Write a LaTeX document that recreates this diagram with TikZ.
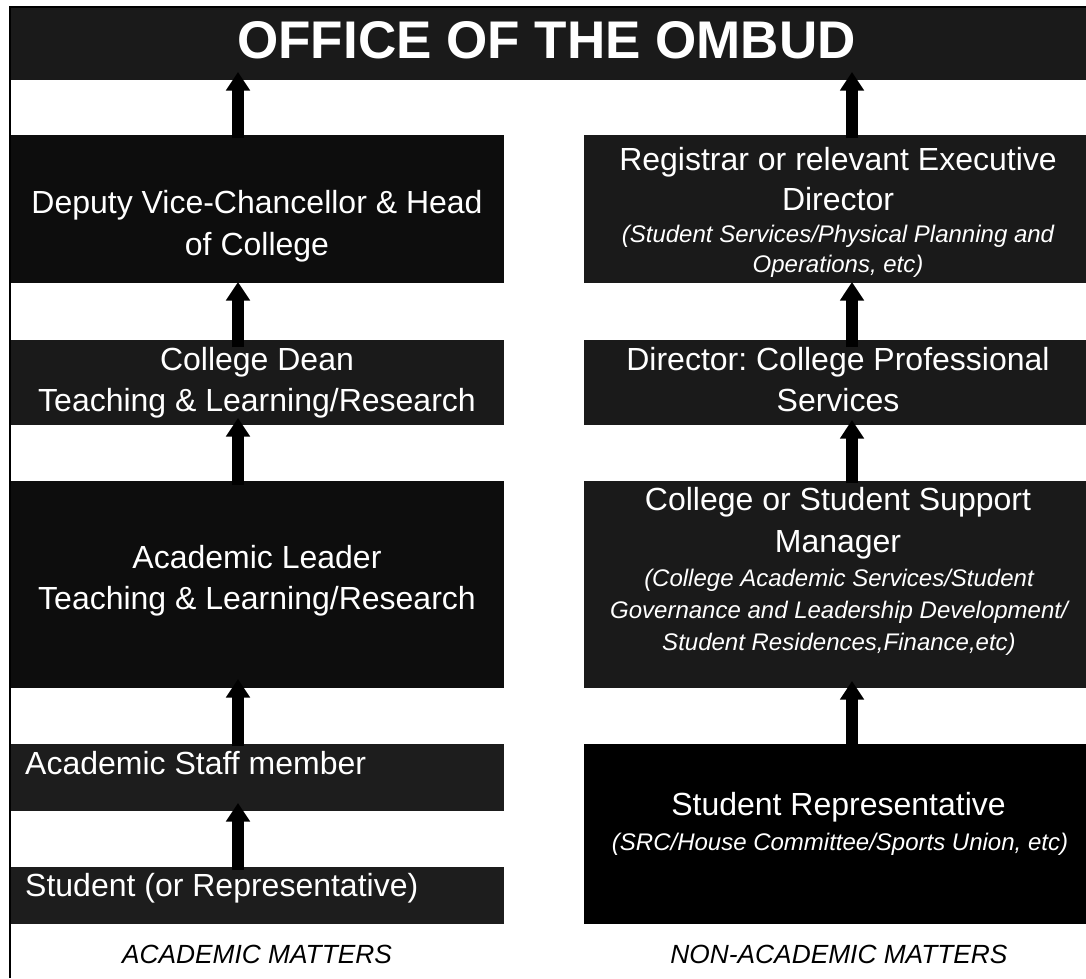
\documentclass[tikz,border=0pt]{standalone}
\usepackage{fontspec}
\setmainfont{Liberation Sans}
\usetikzlibrary{arrows.meta,calc}
\frenchspacing
\newcommand\bodyfs{\fontsize{32}{42}\selectfont}
\newcommand\itfs{\fontsize{24}{31}\selectfont\itshape}
\newcommand\titlefs{\fontsize{53}{60}\selectfont\bfseries}
\newcommand\footfs{\fontsize{26.3}{30}\selectfont\itshape}
\definecolor{titlegray}{HTML}{1A1A1A}
\definecolor{darkbox}{HTML}{0D0D0D}
\definecolor{midbox}{HTML}{1A1A1A}
\definecolor{lowbox}{HTML}{1D1D1D}
\tikzset{
  box/.style={rectangle, draw=none, inner sep=0pt, outer sep=0pt},
  txt/.style={text=white, inner sep=0pt, anchor=base, font=\bodyfs},
  itxt/.style={text=white, inner sep=0pt, anchor=base, font=\itfs},
  ltxt/.style={text=white, inner sep=0pt, anchor=base west, font=\bodyfs},
  foot/.style={text=black, inner sep=0pt, anchor=base, font=\footfs},
  uparr/.style={line width=11.5pt, -{Triangle[width=23pt,length=18.5pt]}, black}
}
\begin{document}
\begin{tikzpicture}[x=1pt,y=-1pt]
\useasboundingbox (0,0) rectangle (1086,978);
% frame
\coordinate (fbl) at (10,978);
\coordinate (ftl) at (10,7);
\coordinate (ftr) at (1086,7);
\draw[line width=2pt, black] (fbl) -- (ftl) -- (ftr);
% title
\node[box, fill=titlegray, minimum width=1075pt, minimum height=72pt] (title) at (548.5,44) {};
\node[text=white, inner sep=0pt, anchor=base, font=\titlefs] (titlet) at (546.5,58.3) {OFFICE OF THE OMBUD};
% left column
\node[box, fill=darkbox, minimum width=493pt, minimum height=148pt] (dvc) at (257.5,209) {};
\node[box, fill=midbox, minimum width=493pt, minimum height=85pt] (dean) at (257.5,382.5) {};
\node[box, fill=darkbox, minimum width=493pt, minimum height=207pt] (leader) at (257.5,584.5) {};
\node[box, fill=lowbox, minimum width=493pt, minimum height=67pt] (staff) at (257.5,777.5) {};
\node[box, fill=lowbox, minimum width=493pt, minimum height=57pt] (student) at (257.5,895.5) {};
% right column
\node[box, fill=midbox, minimum width=502pt, minimum height=148pt] (reg) at (835,209) {};
\node[box, fill=midbox, minimum width=502pt, minimum height=85pt] (dir) at (835,382.5) {};
\node[box, fill=midbox, minimum width=502pt, minimum height=207pt] (mgr) at (835,584.5) {};
\node[box, fill=black, minimum width=502pt, minimum height=180pt] (rep) at (835,834) {};
% left texts
\node[txt] (dvc1) at (257,213.3) {Deputy Vice-Chancellor \& Head};
\node[txt] (dvc2) at (257,255) {of College};
\node[txt] (dean1) at (257,370) {College Dean};
\node[txt] (dean2) at (257,411.7) {Teaching \& Learning/Research};
\node[txt] (lead1) at (257,568.3) {Academic Leader};
\node[txt] (lead2) at (257,609.3) {Teaching \& Learning/Research};
\node[ltxt] (staff1) at (25,774) {Academic Staff member};
\node[ltxt] (stud1) at (25,896.7) {Student (or Representative)};
\node[foot] (acad) at (257,963.3) {ACADEMIC MATTERS};
% right texts
\node[txt] (reg1) at (838,170) {Registrar or relevant Executive};
\node[txt] (reg2) at (838,210) {Director};
\node[itxt] (reg3) at (838,242) {(Student Services/Physical Planning and};
\node[itxt] (reg4) at (838,272) {Operations, etc)};
\node[txt] (dir1) at (838,370) {Director: College Professional};
\node[txt] (dir2) at (838,411.7) {Services};
\node[txt] (mgr1) at (838,510.7) {College or Student Support};
\node[txt] (mgr2) at (838,552.3) {Manager};
\node[itxt] (mgr3) at (839,586.7) {(College Academic Services/Student};
\node[itxt] (mgr4) at (839,618.3) {Governance and Leadership Development/};
\node[itxt] (mgr5) at (839,650) {Student Residences,Finance,etc)};
\node[txt] (rep1) at (838.5,815.7) {Student Representative};
\node[itxt] (rep2) at (840,850) {(SRC/House Committee/Sports Union, etc)};
\node[foot] (nonacad) at (839,963.3) {NON-ACADEMIC MATTERS};
% arrow columns
\coordinate (lx) at (238,0);
\coordinate (rx) at (852,0);
% left arrows
\draw[uparr] ($(lx |- dvc.north)+(0,3)$) -- ($(lx |- title.south)+(0,-8)$);
\draw[uparr] ($(lx |- dean.north)+(0,7)$) -- ($(lx |- dvc.south)+(0,-1)$);
\draw[uparr] ($(lx |- leader.north)+(0,4)$) -- ($(lx |- dean.south)+(0,-7)$);
\draw[uparr] ($(lx |- staff.north)+(0,2)$) -- ($(lx |- leader.south)+(0,-9)$);
\draw[uparr] ($(lx |- student.north)+(0,3)$) -- ($(lx |- staff.south)+(0,-8)$);
% right arrows
\draw[uparr] ($(rx |- reg.north)+(0,3)$) -- ($(rx |- title.south)+(0,-8)$);
\draw[uparr] ($(rx |- dir.north)+(0,7)$) -- ($(rx |- reg.south)+(0,-1)$);
\draw[uparr] ($(rx |- mgr.north)+(0,2)$) -- ($(rx |- dir.south)+(0,-5)$);
\draw[uparr] ($(rx |- rep.north)+(0,0)$) -- ($(rx |- mgr.south)+(0,-7)$);
\end{tikzpicture}
\end{document}
